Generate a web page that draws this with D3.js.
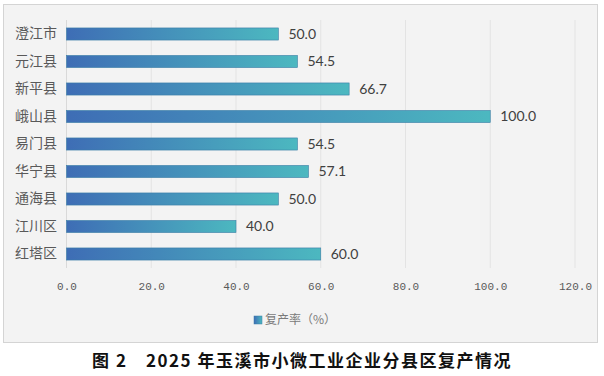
<!DOCTYPE html>
<html>
<head>
<meta charset="utf-8">
<script src="https://cdn.jsdelivr.net/npm/d3@7"></script>
<style>
  body { margin: 0; background: #fff; }
</style>
</head>
<body>
<div id="chart"></div>
<script>
(function () {
  const categories = ["澄江市", "元江县", "新平县", "峨山县", "易门县", "华宁县", "通海县", "江川区", "红塔区"];
  const values = [50.0, 54.5, 66.7, 100.0, 54.5, 57.1, 50.0, 40.0, 60.0];
  const xTicks = [0, 20, 40, 60, 80, 100, 120];
  const seriesName = "复产率（%）";
  const caption = "图 2　2025 年玉溪市小微工业企业分县区复产情况";

  const data = categories.map((c, i) => ({ name: c, value: values[i] }));

  const width = 604;
  const height = 376;
  const cjk = "'Noto Sans CJK SC', 'Noto Sans', sans-serif";

  const svg = d3.select("#chart")
    .append("svg")
    .attr("width", width)
    .attr("height", height);

  const defs = svg.append("defs");
  const grad = defs.append("linearGradient")
    .attr("id", "barGrad")
    .attr("x1", "0%").attr("x2", "100%")
    .attr("y1", "0%").attr("y2", "0%");
  grad.append("stop").attr("offset", "0%").attr("stop-color", "#3e6db5");
  grad.append("stop").attr("offset", "100%").attr("stop-color", "#4cb8c0");

  // panel
  svg.append("rect")
    .attr("x", 3.5)
    .attr("y", 4.5)
    .attr("width", 594)
    .attr("height", 338)
    .attr("fill", "#f3f3f3")
    .attr("stroke", "#d4d4d4")
    .attr("stroke-width", 1);

  const x = d3.scaleLinear()
    .domain([0, 120])
    .range([66.5, 575]);

  const y = d3.scaleBand()
    .domain(categories)
    .range([20.25, 267.75])
    .paddingInner(0.56)
    .paddingOuter(0.28);

  // grid lines
  svg.append("g")
    .selectAll("line")
    .data(xTicks)
    .enter().append("line")
    .attr("x1", d => x(d))
    .attr("x2", d => x(d))
    .attr("y1", 20)
    .attr("y2", 268)
    .attr("stroke", d => d === 0 ? "#d9d9d9" : "#e3e3e3")
    .attr("stroke-width", 1);

  // x axis labels
  const xAxis = svg.append("g")
    .attr("transform", "translate(0,279)")
    .call(d3.axisBottom(x)
      .tickValues(xTicks)
      .tickSize(0)
      .tickFormat(d3.format(".1f")));
  xAxis.select(".domain").remove();
  xAxis.selectAll("text")
    .style("font-family", "'Liberation Mono', 'DejaVu Sans Mono', monospace")
    .style("font-size", "11px")
    .style("fill", "#595959");

  // y axis labels
  const yAxis = svg.append("g")
    .attr("transform", "translate(59,0)")
    .call(d3.axisLeft(y).tickSize(0).tickPadding(2));
  yAxis.select(".domain").remove();
  yAxis.selectAll("text")
    .style("font-family", cjk)
    .style("font-size", "14px")
    .style("fill", "#595959");

  // bars
  svg.append("g")
    .selectAll("rect")
    .data(data)
    .enter().append("rect")
    .attr("x", x(0))
    .attr("y", d => y(d.name))
    .attr("width", d => x(d.value) - x(0))
    .attr("height", y.bandwidth())
    .attr("fill", "url(#barGrad)")
    .attr("stroke", "#3b7ea6")
    .attr("stroke-width", 0.6);

  // value labels
  svg.append("g")
    .selectAll("text")
    .data(data)
    .enter().append("text")
    .attr("x", d => x(d.value) + 10)
    .attr("y", d => y(d.name) + y.bandwidth() / 2)
    .attr("dy", "0.35em")
    .style("font-family", "Lato, 'Noto Sans', sans-serif")
    .style("font-size", "14px")
    .style("fill", "#404040")
    .text(d => d.value.toFixed(1));

  // legend
  const legend = svg.append("g").attr("transform", "translate(254,316)");
  legend.append("rect")
    .attr("width", 8)
    .attr("height", 8)
    .attr("fill", "url(#barGrad)")
    .attr("stroke", "#3b7ea6")
    .attr("stroke-width", 0.5);
  legend.append("text")
    .attr("x", 11)
    .attr("y", 4)
    .attr("dy", "0.35em")
    .style("font-family", cjk)
    .style("font-size", "12px")
    .style("fill", "#7a7a7a")
    .text(seriesName);

  // caption
  svg.append("text")
    .attr("x", 302)
    .attr("y", 367)
    .attr("text-anchor", "middle")
    .style("font-family", cjk)
    .style("font-size", "17px")
    .style("font-weight", "bold")
    .style("letter-spacing", "1.5px")
    .style("fill", "#111")
    .text(caption);
})();
</script>
</body>
</html>
